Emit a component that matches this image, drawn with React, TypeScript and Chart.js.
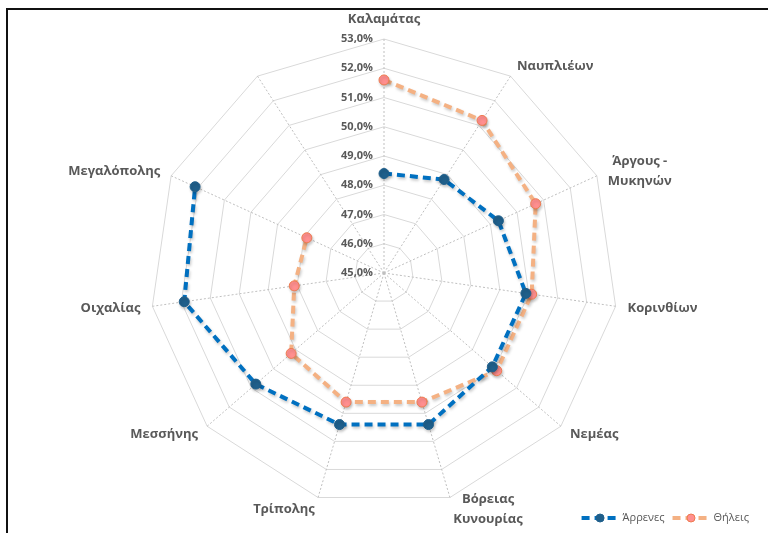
import React, { useEffect, useRef } from 'react';
import { Chart, registerables } from 'chart.js';

Chart.register(...registerables);

const categories: (string | string[])[] = [
  'Καλαμάτας',
  'Ναυπλιέων',
  ['Άργους -', 'Μυκηνών'],
  'Κορινθίων',
  'Νεμέας',
  ['Βόρειας', 'Κυνουρίας'],
  'Τρίπολης',
  'Μεσσήνης',
  'Οιχαλίας',
  'Μεγαλόπολης',
  '',
];
const maleValues: (number | null)[] = [48.4, 48.8, 49.3, 49.9, 49.9, 50.4, 50.4, 50.8, 51.9, 52.1, null];
const femaleValues: (number | null)[] = [51.6, 51.2, 50.7, 50.1, 50.1, 49.6, 49.6, 49.2, 48.1, 47.9, null];
const seriesNames = ['Άρρενες', 'Θήλεις'];
const axisMin = 45;
const axisMax = 53;
const axisStep = 1;

const FONT = '"Open Sans", "Noto Sans", "DejaVu Sans", sans-serif';
const TEXT = '#595959';
const MALE_LINE = '#0070C0';
const MALE_MARK = '#1F5F8B';
const FEMALE_LINE = '#F4B183';
const FEMALE_MARK = '#FF8F8F';
const FEMALE_MARK_BORDER = '#EE7B4F';

const fmt = (v: number) => v.toFixed(1).replace('.', ',') + '%';

const shadowPlugin = {
  id: 'shadow',
  beforeDatasetsDraw(chart: any) {
    const ctx = chart.ctx;
    ctx.save();
    ctx.shadowColor = 'rgba(0,0,0,0.22)';
    ctx.shadowBlur = 3;
    ctx.shadowOffsetX = 1;
    ctx.shadowOffsetY = 2;
  },
  afterDatasetsDraw(chart: any) {
    chart.ctx.restore();
  },
};

const tickPlugin = {
  id: 'leftTicks',
  afterDraw(chart: any) {
    const scale = chart.scales.r;
    const ctx = chart.ctx;
    ctx.save();
    ctx.font = `bold 11px ${FONT}`;
    ctx.fillStyle = TEXT;
    ctx.textAlign = 'right';
    ctx.textBaseline = 'middle';
    scale.ticks.forEach((t: any) => {
      const d = scale.getDistanceFromCenterForValue(t.value);
      ctx.fillText(fmt(t.value), scale.xCenter - 11, scale.yCenter - d);
    });
    ctx.restore();
  },
};

const pointLabelPlugin = {
  id: 'excelPointLabels',
  afterDraw(chart: any) {
    const scale = chart.scales.r;
    const ctx = chart.ctx;
    const labels: (string | string[])[] = chart.data.labels;
    const pad = 12;
    const lineH = 20;
    ctx.save();
    ctx.font = `bold 13px ${FONT}`;
    ctx.fillStyle = TEXT;
    ctx.textBaseline = 'middle';
    ctx.textAlign = 'center';
    labels.forEach((lab, i) => {
      const lines = Array.isArray(lab) ? lab : [lab];
      if (!lines.join('')) return;
      const p = scale.getPointPosition(i, scale.drawingArea + pad);
      const dx = p.x - scale.xCenter;
      const dy = p.y - scale.yCenter;
      const len = Math.hypot(dx, dy);
      const sx = dx / len;
      const sy = dy / len;
      const w = Math.max(...lines.map((l: string) => ctx.measureText(l).width));
      const h = lines.length * lineH;
      let left: number;
      let top: number;
      if (Math.abs(sx) < 0.05) {
        left = p.x - w / 2;
        top = sy < 0 ? p.y - h + 2 : p.y;
      } else {
        left = sx > 0 ? p.x : p.x - w;
        top = p.y - h / 2;
      }
      lines.forEach((l: string, j: number) => {
        ctx.fillText(l, left + w / 2, top + lineH * (j + 0.5));
      });
    });
    ctx.restore();
  },
};

const legendPlugin = {
  id: 'customLegend',
  afterDraw(chart: any) {
    const ctx = chart.ctx;
    const items = [
      { name: seriesNames[0], line: MALE_LINE, fill: MALE_MARK, border: MALE_MARK },
      { name: seriesNames[1], line: FEMALE_LINE, fill: FEMALE_MARK, border: FEMALE_MARK_BORDER },
    ];
    ctx.save();
    ctx.font = `11px ${FONT}`;
    const lineW = 37;
    const gapText = 4;
    const gapItem = 8;
    const y = 518;
    let total = 0;
    items.forEach((it, i) => {
      total += lineW + gapText + ctx.measureText(it.name).width + (i ? gapItem : 0);
    });
    let x = chart.width - 19 - total;
    items.forEach((it, i) => {
      if (i) x += gapItem;
      ctx.save();
      ctx.strokeStyle = it.line;
      ctx.lineWidth = 4;
      ctx.setLineDash([8, 5]);
      ctx.beginPath();
      ctx.moveTo(x, y);
      ctx.lineTo(x + lineW, y);
      ctx.stroke();
      ctx.setLineDash([]);
      ctx.fillStyle = it.fill;
      ctx.strokeStyle = it.border;
      ctx.lineWidth = 1;
      ctx.beginPath();
      ctx.arc(x + lineW / 2, y, 4, 0, Math.PI * 2);
      ctx.fill();
      ctx.stroke();
      ctx.restore();
      x += lineW + gapText;
      ctx.fillStyle = TEXT;
      ctx.textAlign = 'left';
      ctx.textBaseline = 'middle';
      ctx.fillText(it.name, x, y);
      x += ctx.measureText(it.name).width;
    });
    ctx.restore();
  },
};

export default function App() {
  const ref = useRef<HTMLCanvasElement | null>(null);
  useEffect(() => {
    if (!ref.current) return;
    const chart = new Chart(ref.current, {
      type: 'radar',
      data: {
        labels: categories,
        datasets: [
          {
            label: seriesNames[0],
            data: maleValues,
            borderColor: MALE_LINE,
            backgroundColor: MALE_MARK,
            pointBackgroundColor: MALE_MARK,
            pointBorderColor: MALE_MARK,
            pointBorderWidth: 1,
            pointRadius: 5,
            borderWidth: 4,
            borderDash: [8, 5],
            fill: false,
            spanGaps: false,
          },
          {
            label: seriesNames[1],
            data: femaleValues,
            borderColor: FEMALE_LINE,
            backgroundColor: FEMALE_MARK,
            pointBackgroundColor: FEMALE_MARK,
            pointBorderColor: FEMALE_MARK_BORDER,
            pointBorderWidth: 1,
            pointRadius: 5,
            borderWidth: 4,
            borderDash: [8, 5],
            fill: false,
            spanGaps: false,
          },
        ],
      },
      options: {
        responsive: true,
        maintainAspectRatio: false,
        animation: false,
        layout: { padding: { top: 39, bottom: 26, left: 0, right: 0 } },
        plugins: {
          legend: { display: false },
          tooltip: { enabled: false },
        },
        scales: {
          r: {
            min: axisMin,
            max: axisMax,
            ticks: { stepSize: axisStep, display: false },
            grid: { color: '#D9D9D9', lineWidth: 1, circular: false },
            angleLines: { color: '#BFBFBF', lineWidth: 1, borderDash: [2, 2] },
            pointLabels: { display: false },
          },
        },
      },
      plugins: [shadowPlugin, tickPlugin, pointLabelPlugin, legendPlugin],
    });
    return () => chart.destroy();
  }, []);

  return (
    <div style={{ position: 'absolute', left: 0, top: 0, width: 768, height: 533, background: '#fff', overflow: 'hidden' }}>
      <div style={{ position: 'absolute', left: 0, top: 0, width: 768, height: 533 }}>
        <canvas ref={ref} />
      </div>
      <div
        style={{
          position: 'absolute',
          left: 6,
          top: 8,
          width: 780,
          height: 600,
          borderTop: '2px solid #111',
          borderLeft: '2px solid #111',
          pointerEvents: 'none',
        }}
      />
    </div>
  );
}
